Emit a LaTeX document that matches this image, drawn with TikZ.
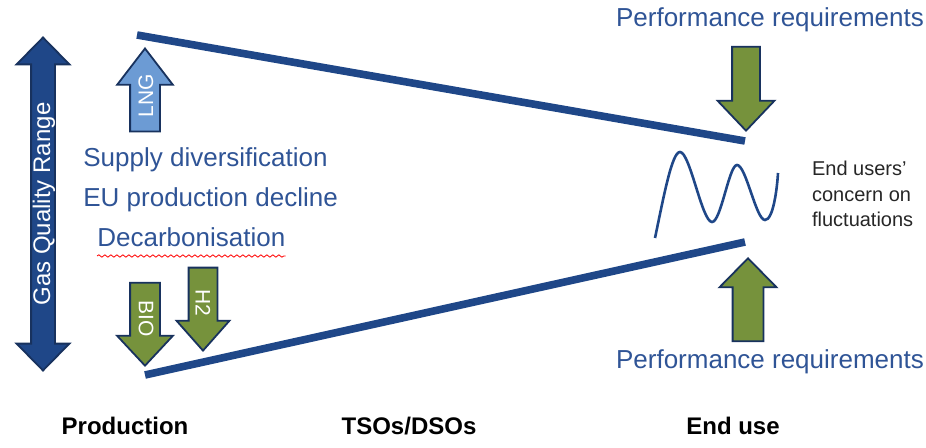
\documentclass[tikz,border=0pt]{standalone}
\usepackage{fontspec}
\setmainfont{Liberation Sans}
\usetikzlibrary{shapes.arrows,decorations.pathmorphing}
\definecolor{gasnavy}{RGB}{31,71,136}
\definecolor{gasedge}{RGB}{24,50,94}
\definecolor{gastext}{RGB}{47,84,150}
\definecolor{gasgreen}{RGB}{118,146,60}
\definecolor{gaslight}{RGB}{108,155,212}

\begin{document}
\begin{tikzpicture}[
  x=0.5pt, y=-0.5pt,
  bound/.style={gasnavy, line width=3.8pt},
  updn/.style={single arrow, draw=gasedge, line width=0.9pt, single arrow head extend=6.5pt,
    inner xsep=0pt, inner ysep=7pt, minimum width=0pt, minimum height=41.5pt, anchor=tip},
  feed/.style={updn, fill=gasgreen},
  lbl/.style={text=gastext, font=\fontsize{13}{15}\selectfont, inner sep=0pt},
  stage/.style={font=\fontsize{12}{14}\selectfont\bfseries, inner sep=0pt, anchor=base},
  tag/.style={text=white, font=\fontsize{10.5}{12}\selectfont, inner sep=0pt}
]
\useasboundingbox (0,0) rectangle (926,448);

% quality range on the left
\node[double arrow, draw=gasedge, fill=gasnavy, line width=0.9pt, double arrow head extend=7.25pt,
  double arrow tip angle=89, inner xsep=0pt, inner ysep=5.5pt, minimum width=0pt,
  minimum height=166.5pt, rotate=90] (range) at (43,204) {};
\node[tag, rotate=90, font=\fontsize{12}{14}\selectfont] (rangetxt) at (44,204) {Gas Quality Range};

% upper and lower bound of the band
\coordinate (prodhi) at (137,35);
\coordinate (usehi) at (745,141);
\coordinate (prodlo) at (145,375);
\coordinate (uselo) at (745,242);
\draw[bound] (prodhi) -- (usehi);
\draw[bound] (prodlo) -- (uselo);

% gases entering at production
\node[updn, fill=gaslight, single arrow tip angle=75, rotate=90] (lng) at (145,47) {};
\node[tag, rotate=90] (lngtxt) at (146,96) {LNG};
\node[feed, single arrow tip angle=86, rotate=-90] (bio) at (145,367) {};
\node[tag, rotate=-90] (biotxt) at (146,319) {BIO};
\node[feed, single arrow head extend=6pt, inner ysep=6.75pt, single arrow tip angle=83, rotate=-90] (htwo) at (203,352) {};
\node[tag, rotate=-90] (htwotxt) at (203,303) {H2};

% end use side
\node[feed, minimum height=42pt, single arrow head extend=7.25pt, inner ysep=6.5pt, single arrow tip angle=87, rotate=-90] (perfdown) at (746,132) {};
\node[feed, inner ysep=7.25pt, single arrow tip angle=89, rotate=90] (perfup) at (748,257) {};
\node[lbl] (perfhi) at (770,20) {Performance requirements};
\node[lbl] (perflo) at (770,362) {Performance requirements};

\draw[gasnavy, line width=1.3pt] (655,238)
  .. controls (664,195) and (672,152) .. (680,152)
  .. controls (690,152) and (702,222) .. (712,222)
  .. controls (721,222) and (729,165) .. (737,165)
  .. controls (746,165) and (756,220) .. (765,220)
  .. controls (773,220) and (777,190) .. (778,173);
\node[anchor=west, align=left, text=black!85, font=\fontsize{10}{12.75}\selectfont] (concern)
  at (805,194) {End users’\\concern on\\fluctuations};

% drivers
\node[lbl, anchor=base west] (supply) at (83,167) {Supply diversification};
\node[lbl, anchor=base west] (decline) at (83,207) {EU production decline};
\node[lbl, anchor=base west] (decarb) at (97,247) {Decarbonisation};
\draw[red, line width=0.4pt, decorate, decoration={snake, amplitude=0.6pt, segment length=3pt}]
  ([yshift=-4.5pt]decarb.base west) -- ([yshift=-4.5pt]decarb.base east);

% chain stages
\node[stage] (prod) at (125,435) {Production};
\node[stage] (tso) at (409,435) {TSOs/DSOs};
\node[stage] (enduse) at (733,435) {End use};
\end{tikzpicture}
\end{document}
